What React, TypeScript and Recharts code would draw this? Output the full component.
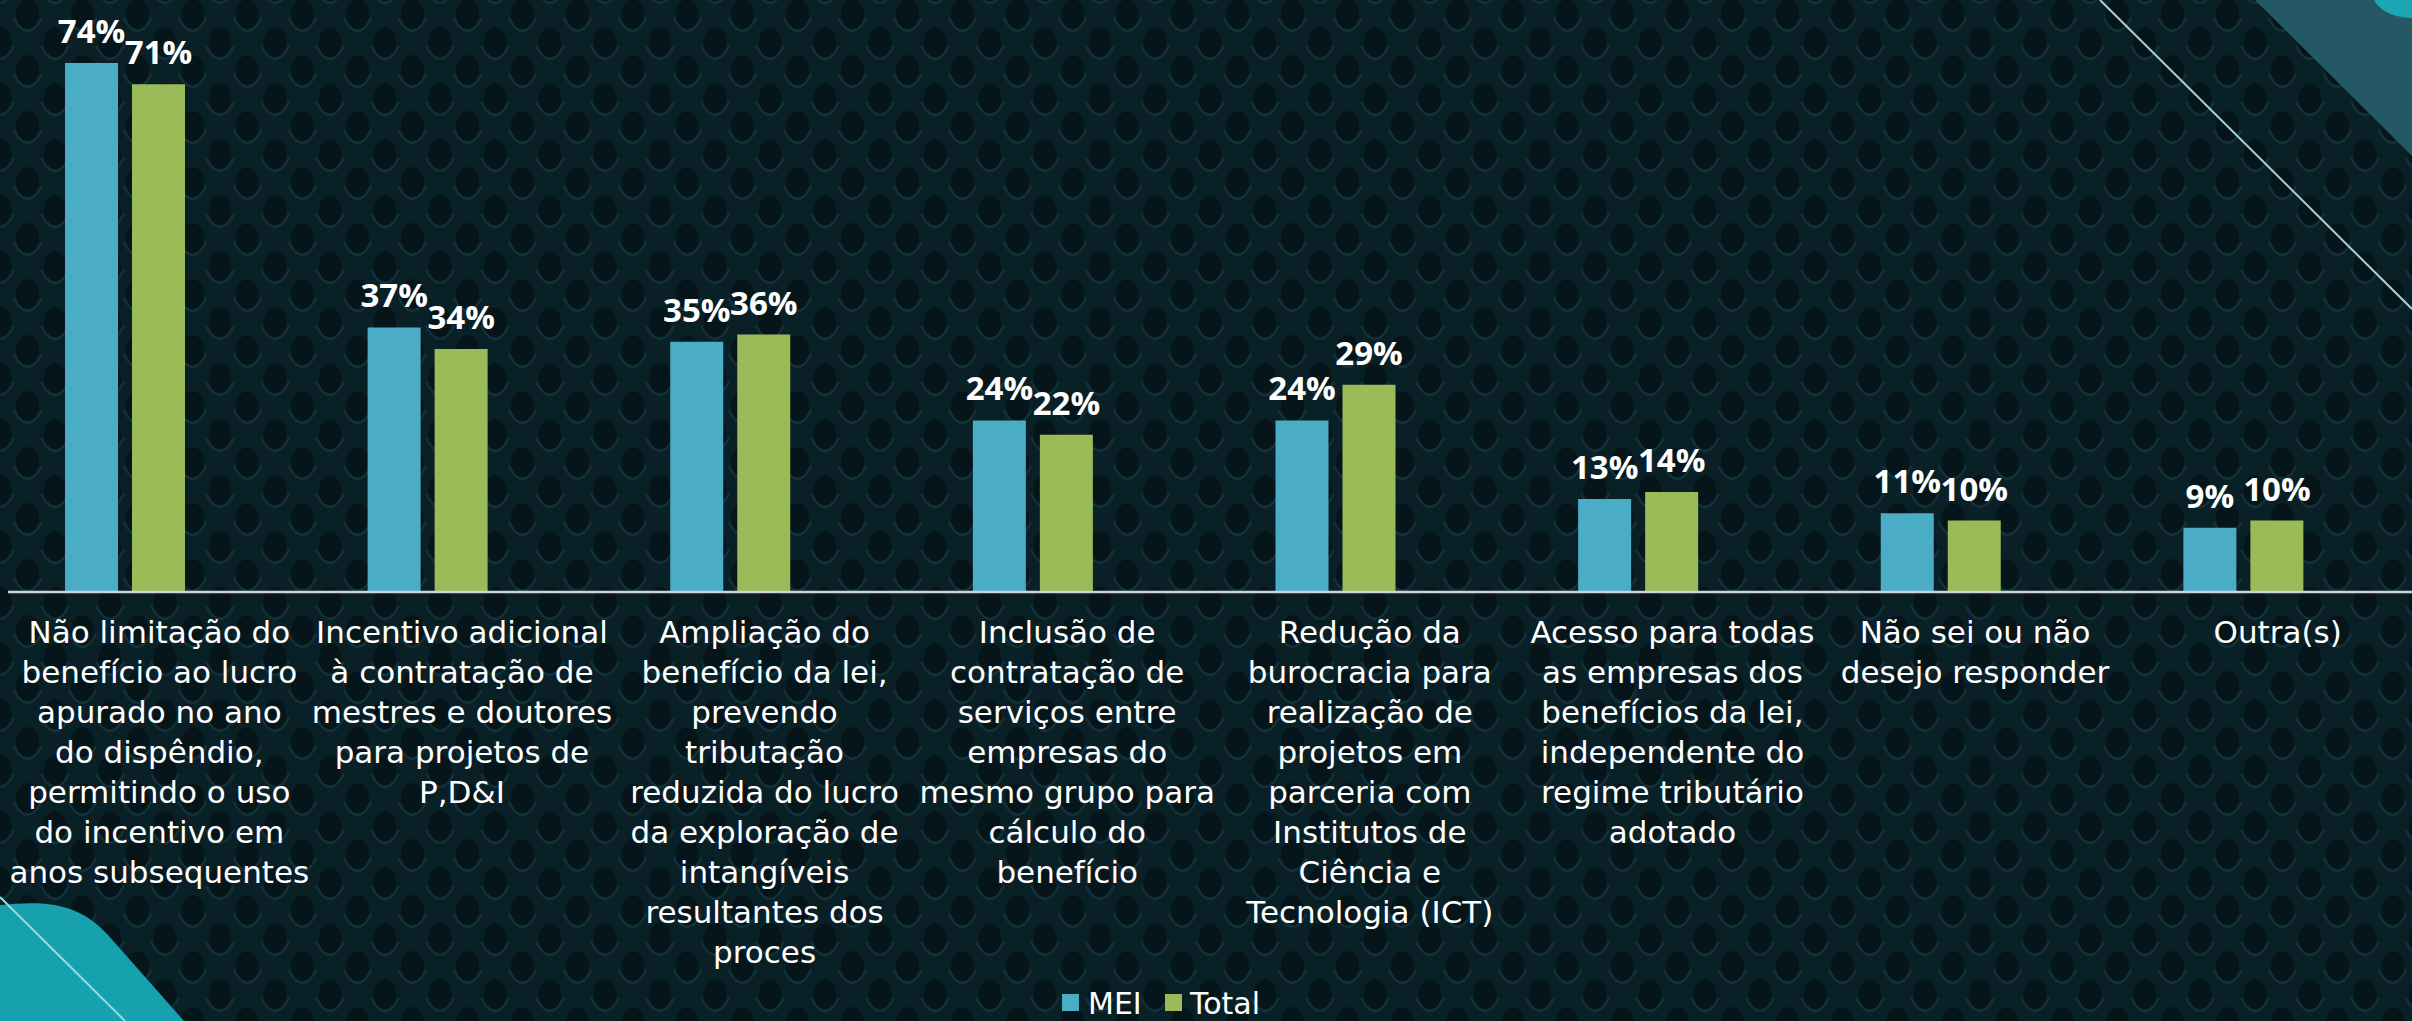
import React from 'react'
import { BarChart, Bar, XAxis, YAxis, LabelList, Legend } from 'recharts'

// category labels, one entry per line as wrapped on the slide
const categoryLines: string[][] = [
  ['Não limitação do', 'benefício ao lucro', 'apurado no ano', 'do dispêndio,', 'permitindo o uso', 'do incentivo em', 'anos subsequentes'],
  ['Incentivo adicional', 'à contratação de', 'mestres e doutores', 'para projetos de', 'P,D&I'],
  ['Ampliação do', 'benefício da lei,', 'prevendo', 'tributação', 'reduzida do lucro', 'da exploração de', 'intangíveis', 'resultantes dos', 'proces'],
  ['Inclusão de', 'contratação de', 'serviços entre', 'empresas do', 'mesmo grupo para', 'cálculo do', 'benefício'],
  ['Redução da', 'burocracia para', 'realização de', 'projetos em', 'parceria com', 'Institutos de', 'Ciência e', 'Tecnologia (ICT)'],
  ['Acesso para todas', 'as empresas dos', 'benefícios da lei,', 'independente do', 'regime tributário', 'adotado'],
  ['Não sei ou não', 'desejo responder'],
  ['Outra(s)'],
]

const meiValues = [74, 37, 35, 24, 24, 13, 11, 9]
const totalValues = [71, 34, 36, 22, 29, 14, 10, 10]

const seriesNames = { mei: 'MEI', total: 'Total' }
const colors = { mei: '#4bacc6', total: '#9bbb59' }

const data = categoryLines.map((lines, i) => ({
  name: lines.join('\n'),
  mei: meiValues[i],
  total: totalValues[i],
}))

const TEXT_FONT = '"DejaVu Sans", sans-serif'
const LABEL_FONT = '"Open Sans", sans-serif'

function CategoryTick({ x, y, payload }: any) {
  const lines = String(payload.value).split('\n')
  // slide labels sit a little right of the bar groups
  const cx = x + 34
  return (
    <text x={cx} y={y} textAnchor="middle" fill="#ffffff" fontFamily={TEXT_FONT} fontSize={31}>
      {lines.map((line, i) => (
        <tspan key={i} x={cx} dy={i === 0 ? 51 : 40}>
          {line}
        </tspan>
      ))}
    </text>
  )
}

function LegendBox() {
  return (
    <svg width={220} height={40} style={{ overflow: 'visible' }}>
      <rect x={7} y={4} width={17} height={17} fill={colors.mei} />
      <text x={33} y={24} fill="#ffffff" fontFamily={TEXT_FONT} fontSize={30}>
        {seriesNames.mei}
      </text>
      <rect x={110} y={4} width={17} height={17} fill={colors.total} />
      <text x={135} y={24} fill="#ffffff" fontFamily={TEXT_FONT} fontSize={30}>
        {seriesNames.total}
      </text>
    </svg>
  )
}

function Backdrop() {
  return (
    <svg width={2412} height={1021} style={{ position: 'absolute', left: 0, top: 0 }}>
      <defs>
        <pattern id="scales" width={55} height={56} patternUnits="userSpaceOnUse">
          <rect width={55} height={56} fill="#0a2027" />
          {[
            [27.5, 14],
            [0, 42],
            [55, 42],
            [0, -14],
            [55, -14],
            [27.5, 70],
          ].map(([cx, cy], i) => (
            <g key={i}>
              <path d={`M${cx - 14} ${cy + 4} Q${cx} ${cy + 30} ${cx + 14} ${cy + 4}`} stroke="#12333c" strokeWidth={2} fill="none" />
              <ellipse cx={cx} cy={cy} rx={11.5} ry={15} fill="#061519" />
            </g>
          ))}
        </pattern>
      </defs>
      <rect width={2412} height={1021} fill="url(#scales)" />
      <polygon points="2255,0 2412,0 2412,156" fill="#235864" />
      <ellipse cx={2412} cy={-8} rx={40} ry={26} fill="#1aa6b3" />
      <line x1={2100} y1={0} x2={2412} y2={309} stroke="#a9d3d8" strokeWidth={2} />
      <path d="M0 905 C 35 902, 75 898, 108 935 L 184 1021 L 0 1021 Z" fill="#17a0ad" />
      <line x1={0} y1={897} x2={125} y2={1021} stroke="#93dbe2" strokeWidth={2} />
    </svg>
  )
}

export default function App() {
  return (
    <div
      style={{
        position: 'fixed',
        left: 0,
        top: 0,
        width: 2412,
        height: 1021,
        overflow: 'hidden',
        background: '#0a1f26',
      }}
    >
      <Backdrop />
      <div style={{ position: 'absolute', left: 0, top: 0 }}>
        <BarChart
          width={2412}
          height={1021}
          data={data}
          margin={{ top: 20, right: 0, left: 8, bottom: 0 }}
          barSize={53}
          barGap={14}
        >
          <YAxis hide domain={[0, 80]} />
          <XAxis
            dataKey="name"
            interval={0}
            height={429}
            padding={{ left: -34, right: 17 }}
            axisLine={{ stroke: '#cfd3d4', strokeWidth: 2.5 }}
            tickLine={false}
            tickSize={0}
            tickMargin={0}
            tick={<CategoryTick />}
          />
          <Legend
            layout="horizontal"
            align="center"
            verticalAlign="middle"
            content={<LegendBox />}
            wrapperStyle={{ position: 'absolute', left: 1055, top: 990, width: 220, height: 30 }}
          />
          <Bar dataKey="mei" name={seriesNames.mei} fill={colors.mei} isAnimationActive={false}>
            <LabelList
              dataKey="mei"
              position="top"
              offset={20}
              formatter={(v: any) => `${v}%`}
              fill="#ffffff"
              fontFamily={LABEL_FONT}
              fontWeight={700}
              fontSize={33}
            />
          </Bar>
          <Bar dataKey="total" name={seriesNames.total} fill={colors.total} isAnimationActive={false}>
            <LabelList
              dataKey="total"
              position="top"
              offset={20}
              formatter={(v: any) => `${v}%`}
              fill="#ffffff"
              fontFamily={LABEL_FONT}
              fontWeight={700}
              fontSize={33}
            />
          </Bar>
        </BarChart>
      </div>
    </div>
  )
}
